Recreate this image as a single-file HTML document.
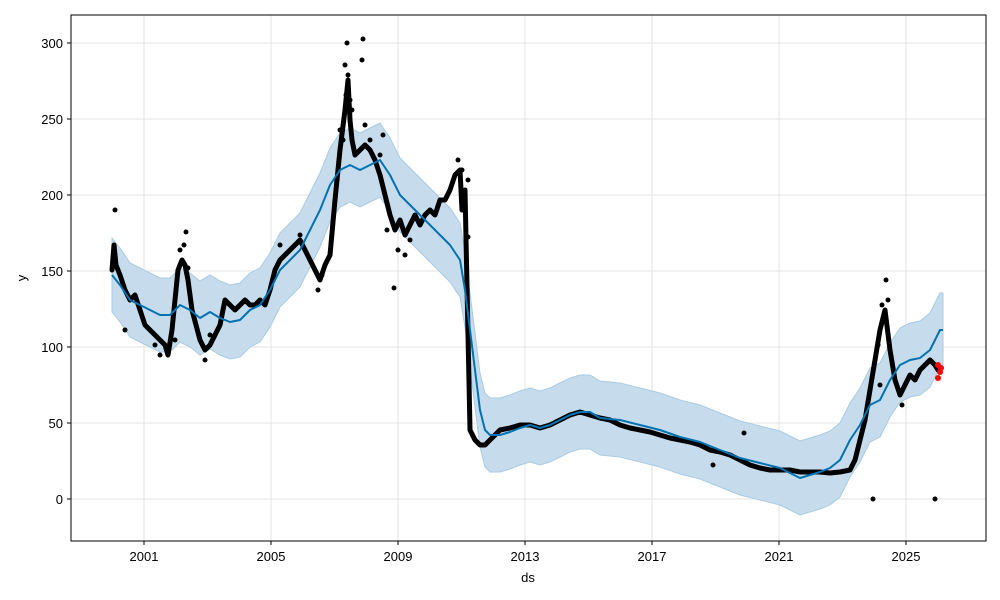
<!DOCTYPE html>
<html><head><meta charset="utf-8"><style>
body{margin:0;background:#fff;}
svg{display:block;font-family:"Liberation Sans",sans-serif;}
</style></head><body>
<svg width="1000" height="600" viewBox="0 0 1000 600" xmlns="http://www.w3.org/2000/svg">
<rect width="1000" height="600" fill="#fff"/>
<g stroke="#e3e3e3" stroke-width="1">
<line x1="144" y1="15" x2="144" y2="541"/><line x1="271" y1="15" x2="271" y2="541"/>
<line x1="398" y1="15" x2="398" y2="541"/><line x1="525" y1="15" x2="525" y2="541"/>
<line x1="652" y1="15" x2="652" y2="541"/><line x1="779" y1="15" x2="779" y2="541"/>
<line x1="906" y1="15" x2="906" y2="541"/>
<line x1="71" y1="499" x2="986" y2="499"/><line x1="71" y1="423" x2="986" y2="423"/>
<line x1="71" y1="347" x2="986" y2="347"/><line x1="71" y1="271" x2="986" y2="271"/>
<line x1="71" y1="195" x2="986" y2="195"/><line x1="71" y1="119" x2="986" y2="119"/>
<line x1="71" y1="43" x2="986" y2="43"/>
</g>
<polygon fill="#c6dcec" stroke="#a9cbe3" stroke-width="1" points="112,238 120,248 130,263 140,268 150,273 160,278 170,278 180,268 190,273 200,281 210,275 220,281 230,285 240,283 250,273 260,268 270,253 280,233 290,223 300,213 310,193 320,173 330,148 340,133 350,128 360,133 370,128 380,123 390,138 400,158 410,168 420,178 430,188 440,198 450,208 460,223 465,253 470,293 475,333 480,373 485,393 490,398 500,398 510,395 520,391 530,388 540,391 550,388 560,383 570,378 580,375 590,375 600,381 620,383 640,388 660,393 680,400 700,405 720,413 740,421 760,426 780,431 800,441 810,438 820,435 830,431 840,423 850,403 860,388 870,368 880,363 890,343 900,328 910,323 920,321 930,313 940,293 943,293 943,367 940,367 930,387 920,395 910,397 900,402 890,417 880,437 870,442 860,462 850,477 840,497 830,505 820,509 810,512 800,515 780,505 760,500 740,495 720,487 700,479 680,474 660,467 640,462 620,457 600,455 590,449 580,449 570,452 560,457 550,462 540,465 530,462 520,465 510,469 500,472 490,472 485,467 480,447 475,407 470,367 465,327 460,297 450,282 440,272 430,262 420,252 410,242 400,232 390,212 380,197 370,202 360,207 350,202 340,207 330,222 320,247 310,267 300,287 290,297 280,307 270,327 260,342 250,347 240,357 230,359 220,355 210,349 200,355 190,347 180,342 170,352 160,352 150,347 140,342 130,337 120,322 112,312"/>
<polyline fill="none" stroke="#000" stroke-width="5" stroke-linejoin="round" stroke-linecap="round" points="112,270 114,245 116,265 120,275 125,290 130,300 135,295 140,310 145,325 150,330 155,335 160,340 165,345 168,355 172,330 175,300 178,270 182,260 185,265 188,280 192,310 196,325 200,340 205,350 210,345 215,335 220,325 225,300 230,305 235,310 240,305 245,300 250,305 255,305 260,300 265,305 270,290 275,270 280,260 285,255 290,250 295,245 300,240 305,250 310,260 315,270 320,280 325,265 330,255 335,200 340,150 345,110 348,80 350,120 352,140 355,155 360,150 365,145 370,150 375,160 380,175 385,195 390,215 395,230 400,220 405,235 410,225 415,215 420,225 425,215 430,210 435,215 440,200 445,200 450,190 455,175 460,170 462,210 465,190 470,430 475,440 480,445 485,445 490,440 495,435 500,430 510,428 520,425 530,425 540,428 550,425 560,420 570,415 580,412 590,415 600,418 610,420 620,425 630,428 640,430 650,432 660,435 670,438 680,440 690,442 700,445 710,450 720,452 730,455 740,460 750,465 760,468 770,470 780,470 790,470 800,472 810,472 820,472 830,473 840,472 850,470 855,460 860,440 865,420 870,390 875,360 880,330 885,310 890,350 895,380 900,395 905,385 910,375 915,380 920,370 925,365 930,360 935,365 938,370"/>
<g fill="#000">
<circle cx="394" cy="288" r="2.5"/><circle cx="873" cy="499" r="2.5"/><circle cx="935" cy="499" r="2.5"/>
<circle cx="363" cy="39" r="2.5"/><circle cx="347" cy="43" r="2.5"/><circle cx="115" cy="210" r="2.5"/>
<circle cx="886" cy="280" r="2.5"/><circle cx="345" cy="65" r="2.5"/><circle cx="387" cy="230" r="2.5"/>
<circle cx="186" cy="232" r="2.5"/><circle cx="184" cy="245" r="2.5"/><circle cx="180" cy="250" r="2.5"/><circle cx="188" cy="268" r="2.5"/>
<circle cx="160" cy="355" r="2.5"/><circle cx="155" cy="345" r="2.5"/><circle cx="175" cy="340" r="2.5"/>
<circle cx="205" cy="360" r="2.5"/><circle cx="210" cy="335" r="2.5"/><circle cx="125" cy="330" r="2.5"/>
<circle cx="348" cy="75" r="2.5"/><circle cx="350" cy="100" r="2.5"/><circle cx="346" cy="95" r="2.5"/><circle cx="340" cy="130" r="2.5"/><circle cx="343" cy="140" r="2.5"/><circle cx="338" cy="170" r="2.5"/><circle cx="352" cy="110" r="2.5"/>
<circle cx="362" cy="60" r="2.5"/><circle cx="365" cy="125" r="2.5"/><circle cx="370" cy="140" r="2.5"/><circle cx="380" cy="155" r="2.5"/><circle cx="383" cy="135" r="2.5"/>
<circle cx="398" cy="250" r="2.5"/><circle cx="405" cy="255" r="2.5"/><circle cx="410" cy="240" r="2.5"/><circle cx="458" cy="160" r="2.5"/><circle cx="462" cy="170" r="2.5"/><circle cx="468" cy="180" r="2.5"/><circle cx="468" cy="237" r="2.5"/>
<circle cx="318" cy="290" r="2.5"/><circle cx="322" cy="275" r="2.5"/><circle cx="280" cy="245" r="2.5"/><circle cx="300" cy="235" r="2.5"/>
<circle cx="882" cy="305" r="2.5"/><circle cx="884" cy="320" r="2.5"/><circle cx="888" cy="300" r="2.5"/><circle cx="878" cy="345" r="2.5"/><circle cx="880" cy="385" r="2.5"/><circle cx="902" cy="405" r="2.5"/><circle cx="744" cy="433" r="2.5"/><circle cx="713" cy="465" r="2.5"/>
</g>
<g fill="#ff0000"><circle cx="938" cy="365" r="3"/><circle cx="940" cy="372" r="3"/><circle cx="938" cy="378" r="3"/><circle cx="941" cy="368" r="3"/></g>
<polyline fill="none" stroke="#0072B2" stroke-width="2" stroke-linejoin="round" points="112,275 120,285 130,300 140,305 150,310 160,315 170,315 180,305 190,310 200,318 210,312 220,318 230,322 240,320 250,310 260,305 270,290 280,270 290,260 300,250 310,230 320,210 330,185 340,170 350,165 360,170 370,165 380,160 390,175 400,195 410,205 420,215 430,225 440,235 450,245 460,260 465,290 470,330 475,370 480,410 485,430 490,435 500,435 510,432 520,428 530,425 540,428 550,425 560,420 570,415 580,412 590,412 600,418 620,420 640,425 660,430 680,437 700,442 720,450 740,458 760,463 780,468 800,478 810,475 820,472 830,468 840,460 850,440 860,425 870,405 880,400 890,380 900,365 910,360 920,358 930,350 940,330 943,330"/>
<rect x="71" y="15" width="915" height="526" fill="none" stroke="#000" stroke-width="1"/>
<g stroke="#000"><line x1="144" y1="541" x2="144" y2="545"/><line x1="271" y1="541" x2="271" y2="545"/><line x1="398" y1="541" x2="398" y2="545"/><line x1="525" y1="541" x2="525" y2="545"/><line x1="652" y1="541" x2="652" y2="545"/><line x1="779" y1="541" x2="779" y2="545"/><line x1="906" y1="541" x2="906" y2="545"/>
<line x1="67" y1="499" x2="71" y2="499"/><line x1="67" y1="423" x2="71" y2="423"/><line x1="67" y1="347" x2="71" y2="347"/><line x1="67" y1="271" x2="71" y2="271"/><line x1="67" y1="195" x2="71" y2="195"/><line x1="67" y1="119" x2="71" y2="119"/><line x1="67" y1="43" x2="71" y2="43"/></g>
<g font-size="13" fill="#000" text-anchor="middle">
<text x="144" y="561">2001</text><text x="271" y="561">2005</text><text x="398" y="561">2009</text><text x="525" y="561">2013</text><text x="652" y="561">2017</text><text x="779" y="561">2021</text><text x="906" y="561">2025</text>
<text x="528" y="582">ds</text>
</g>
<g font-size="13" fill="#000" text-anchor="end">
<text x="63" y="504">0</text><text x="63" y="428">50</text><text x="63" y="352">100</text><text x="63" y="276">150</text><text x="63" y="200">200</text><text x="63" y="124">250</text><text x="63" y="48">300</text>
</g>
<text x="26" y="278" font-size="13" text-anchor="middle" transform="rotate(-90 26 278)">y</text>
</svg>
</body></html>
